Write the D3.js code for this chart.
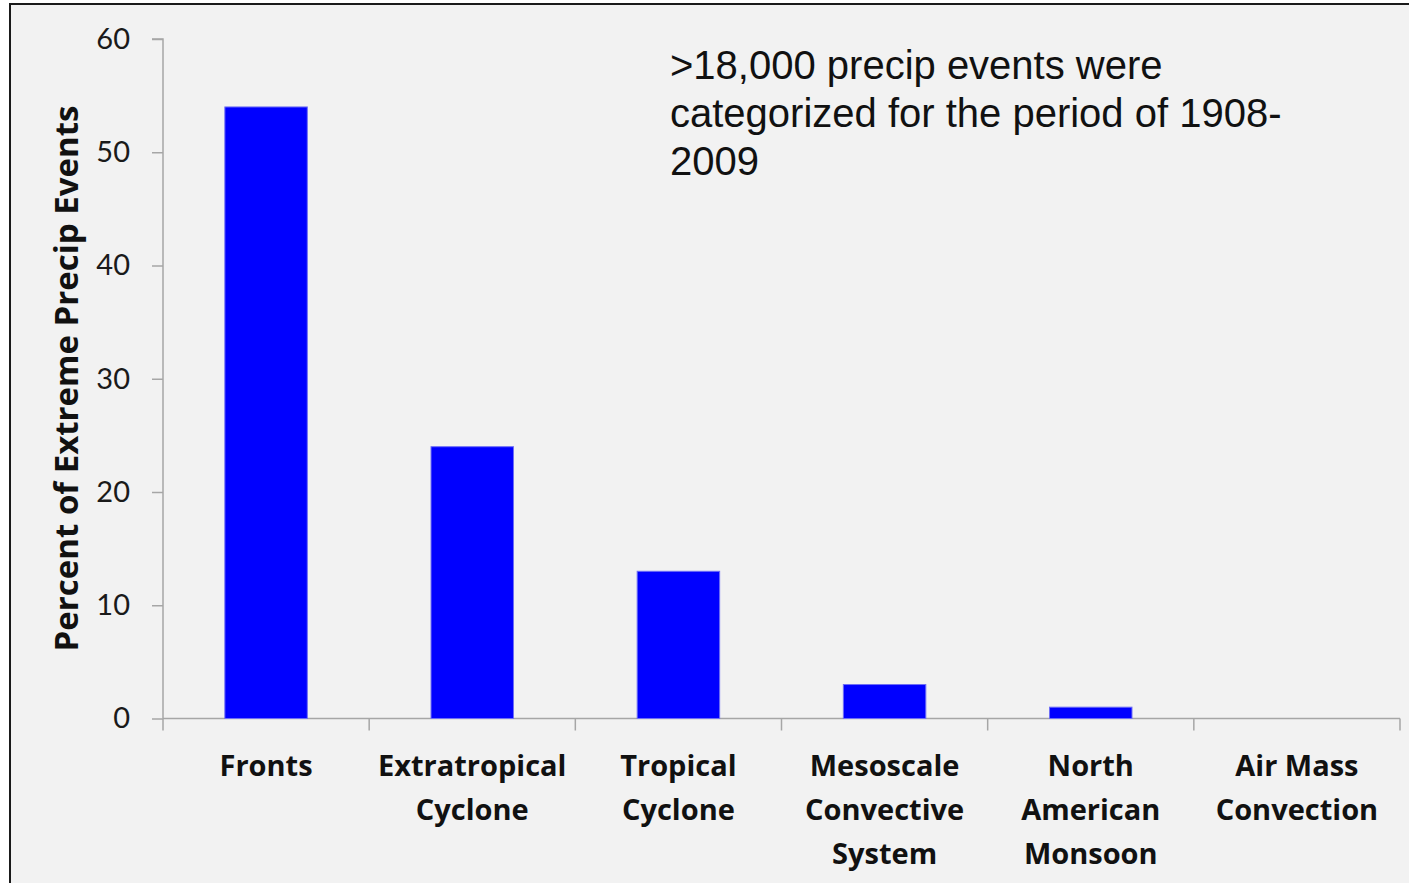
<!DOCTYPE html>
<html>
<head>
<meta charset="utf-8">
<script src="https://cdn.jsdelivr.net/npm/d3@7"></script>
<style>
html,body{margin:0;padding:0;background:#ffffff;}
svg{display:block;}
</style>
</head>
<body>
<script>
const categories = [["Fronts"], ["Extratropical", "Cyclone"], ["Tropical", "Cyclone"], ["Mesoscale", "Convective", "System"], ["North", "American", "Monsoon"], ["Air Mass", "Convection"]];
const values = [54, 24, 13, 3, 1, 0];
const yTicks = [0, 10, 20, 30, 40, 50, 60];
const yTitle = "Percent of Extreme Precip Events";
const noteLines = [">18,000 precip events were", "categorized for the period of 1908-", "2009"];

(function () {
const W = 1409, H = 883;
const svg = d3.select("body").append("svg").attr("width", W).attr("height", H);

svg.append("rect").attr("x", 0).attr("y", 0).attr("width", W).attr("height", H).attr("fill", "#ffffff");
svg.append("rect").attr("x", 10).attr("y", 4).attr("width", W - 10 + 5).attr("height", H).attr("fill", "#f2f2f2")
  .attr("stroke", "#1a1a1a").attr("stroke-width", 2);

const pLeft = 163, pRight = 1400, pTop = 39, pBottom = 718.5;
const x = d3.scaleBand().domain(d3.range(categories.length)).range([pLeft, pRight]).paddingInner(0.6).paddingOuter(0.3);
const xb = d3.scaleBand().domain(d3.range(categories.length)).range([pLeft, pRight]);
const y = d3.scaleLinear().domain([0, 60]).range([pBottom, pTop]);

const font = "Lato, 'Open Sans', sans-serif";
const boldFont = "'Open Sans', Lato, sans-serif";

const yAxis = svg.append("g").attr("transform", `translate(${pLeft},0)`)
  .call(d3.axisLeft(y).tickValues(yTicks).tickSize(11).tickPadding(22));
yAxis.select(".domain").attr("stroke", "#a6a6a6").attr("stroke-width", 1.5).attr("d", `M-11,${pTop}H0V${pBottom}`);
yAxis.selectAll(".tick line").attr("stroke", "#a6a6a6").attr("stroke-width", 1.5);
yAxis.selectAll(".tick text").attr("font-family", font).attr("font-size", 29).attr("fill", "#1a1a1a");

const xAxis = svg.append("g").attr("transform", `translate(0,${pBottom})`);
xAxis.append("path").attr("d", `M${pLeft},0H${pRight}`).attr("stroke", "#a6a6a6").attr("stroke-width", 1.5).attr("fill", "none");
const bounds = d3.range(categories.length).map(i => xb(i)).concat([pRight]);
xAxis.selectAll("line.tk").data(bounds).join("line").attr("class", "tk")
  .attr("x1", d => d).attr("x2", d => d).attr("y1", 0).attr("y2", 12)
  .attr("stroke", "#a6a6a6").attr("stroke-width", 1.5);

svg.selectAll("rect.bar").data(values).join("rect").attr("class", "bar")
  .attr("x", (d, i) => x(i)).attr("width", x.bandwidth())
  .attr("y", d => y(d)).attr("height", d => pBottom - y(d))
  .attr("fill", "#0000ff").attr("stroke", "#6f6ff5").attr("stroke-width", 1)
  .attr("display", d => d > 0 ? null : "none");

const lab = svg.selectAll("text.cat").data(categories).join("text").attr("class", "cat")
  .attr("text-anchor", "middle").attr("font-family", boldFont).attr("font-weight", "bold")
  .attr("font-size", 29).attr("fill", "#111");
lab.each(function(lines, i) {
  const cx = xb(i) + xb.bandwidth() / 2;
  d3.select(this).selectAll("tspan").data(lines).join("tspan")
    .attr("x", cx).attr("y", (d, j) => 776 + j * 44).text(d => d);
});

svg.append("text").attr("transform", `translate(78,${(105 + 652) / 2}) rotate(-90)`)
  .attr("text-anchor", "middle").attr("font-family", boldFont).attr("font-weight", "bold")
  .attr("font-size", 33).attr("fill", "#111").text(yTitle);

svg.append("g").selectAll("text").data(noteLines).join("text")
  .attr("x", 670).attr("y", (d, i) => 79 + i * 48)
  .attr("font-family", "'Liberation Sans', Arial, sans-serif").attr("font-size", 40).attr("fill", "#111")
  .text(d => d);
})();
</script>
</body>
</html>
